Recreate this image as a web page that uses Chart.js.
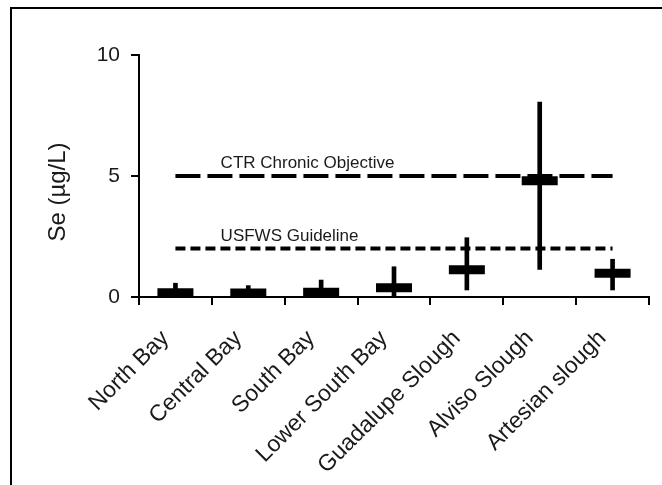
<!DOCTYPE html>
<html>
<head>
<meta charset="utf-8">
<script src="https://cdn.jsdelivr.net/npm/chart.js@4"></script>
<style>
  html, body { margin: 0; padding: 0; background: #fff; }
  #wrap { position: relative; width: 662px; height: 485px; overflow: hidden; }
  #frame { position: absolute; left: 10px; top: 7px; width: 700px; height: 500px;
           border-left: 2px solid #000; border-top: 2px solid #000; }
  canvas { position: absolute; left: 0; top: 0; }
</style>
</head>
<body>
<div id="wrap">
  <div id="frame"></div>
  <canvas id="seChart" width="662" height="485"></canvas>
</div>
<script>
// sites along the bay
const categories = ['North Bay', 'Central Bay', 'South Bay', 'Lower South Bay',
                    'Guadalupe Slough', 'Alviso Slough', 'Artesian slough'];
// Se concentrations (ug/L): central value and range
const medians = [0.18, 0.17, 0.2, 0.38, 1.13, 4.8, 0.98];
const mins = [0, 0, 0, 0, 0.29, 1.14, 0.29];
const maxs = [0.57, 0.47, 0.7, 1.25, 2.45, 8.05, 1.56];
// guideline levels
const ctrObjective = [5, 5, 5, 5, 5, 5, 5];
const usfwsGuideline = [2, 2, 2, 2, 2, 2, 2];
const refLabels = ['CTR Chronic Objective', 'USFWS Guideline'];
const refValues = [5, 2];
const yTicks = [0, 5, 10];
const yTitle = 'Se (µg/L)';

const font = '"Liberation Sans", Arial, sans-serif';
const ink = '#1a1a1a';

// draws the guideline captions and the y title
const annotate = {
    id: 'annotate',
    afterDatasetsDraw(chart) {
        const { ctx } = chart;
        const x = chart.scales.x;
        const y = chart.scales.y;
        ctx.save();
        ctx.fillStyle = ink;
        ctx.font = '17px ' + font;
        ctx.textAlign = 'left';
        ctx.textBaseline = 'alphabetic';
        refLabels.forEach((t, i) => {
            ctx.fillText(t, x.getPixelForValue(0.62), y.getPixelForValue(refValues[i]) - 8);
        });
        ctx.translate(65, (y.top + y.bottom) / 2 + 16);
        ctx.rotate(-Math.PI / 2);
        ctx.font = '24px ' + font;
        ctx.textAlign = 'center';
        ctx.fillText(yTitle, 0, 0);
        ctx.restore();
    }
};

const ctx = document.getElementById('seChart').getContext('2d');
new Chart(ctx, {
    type: 'bar',
    data: {
        labels: categories,
        datasets: [
            {
                type: 'line',
                data: ctrObjective,
                borderColor: '#000',
                borderWidth: 4,
                borderDash: [25, 7],
                borderCapStyle: 'butt',
                pointRadius: 0,
                fill: false
            },
            {
                type: 'line',
                data: usfwsGuideline,
                borderColor: '#000',
                borderWidth: 4,
                borderDash: [10, 5],
                borderCapStyle: 'butt',
                pointRadius: 0,
                fill: false
            },
            {
                type: 'line',
                data: medians,
                showLine: false,
                pointStyle: 'line',
                pointRadius: 18,
                pointHoverRadius: 18,
                pointBorderWidth: 9,
                pointBorderColor: '#000',
                clip: false
            },
            {
                type: 'bar',
                data: categories.map((c, i) => [mins[i], maxs[i]]),
                backgroundColor: '#000',
                barThickness: 4,
                clip: false
            }
        ]
    },
    options: {
        responsive: false,
        animation: false,
        layout: { autoPadding: false, padding: { top: 55, right: 13, bottom: 0, left: 0 } },
        plugins: {
            legend: { display: false },
            tooltip: { enabled: false }
        },
        scales: {
            x: {
                offset: true,
                afterFit(scale) {
                    scale.height = 188;
                    scale.paddingLeft = 0;
                    scale.paddingRight = 0;
                },
                grid: {
                    offset: true,
                    drawOnChartArea: false,
                    drawTicks: true,
                    tickLength: 8,
                    lineWidth: 2,
                    color: '#000'
                },
                border: { display: true, color: '#000', width: 2 },
                ticks: {
                    minRotation: 45,
                    maxRotation: 45,
                    autoSkip: false,
                    padding: 20,
                    labelOffset: -10,
                    color: ink,
                    font: { family: font, size: 23 }
                }
            },
            y: {
                min: 0,
                max: 10,
                afterFit(scale) { scale.width = 139; },
                afterBuildTicks(scale) { scale.ticks = yTicks.map(v => ({ value: v })); },
                grid: {
                    drawOnChartArea: false,
                    drawTicks: true,
                    tickLength: 8,
                    lineWidth: 2,
                    color: '#000'
                },
                border: { display: true, color: '#000', width: 2 },
                ticks: {
                    padding: 11,
                    color: ink,
                    font: { family: font, size: 21 }
                }
            }
        }
    },
    plugins: [annotate]
});
</script>
</body>
</html>
